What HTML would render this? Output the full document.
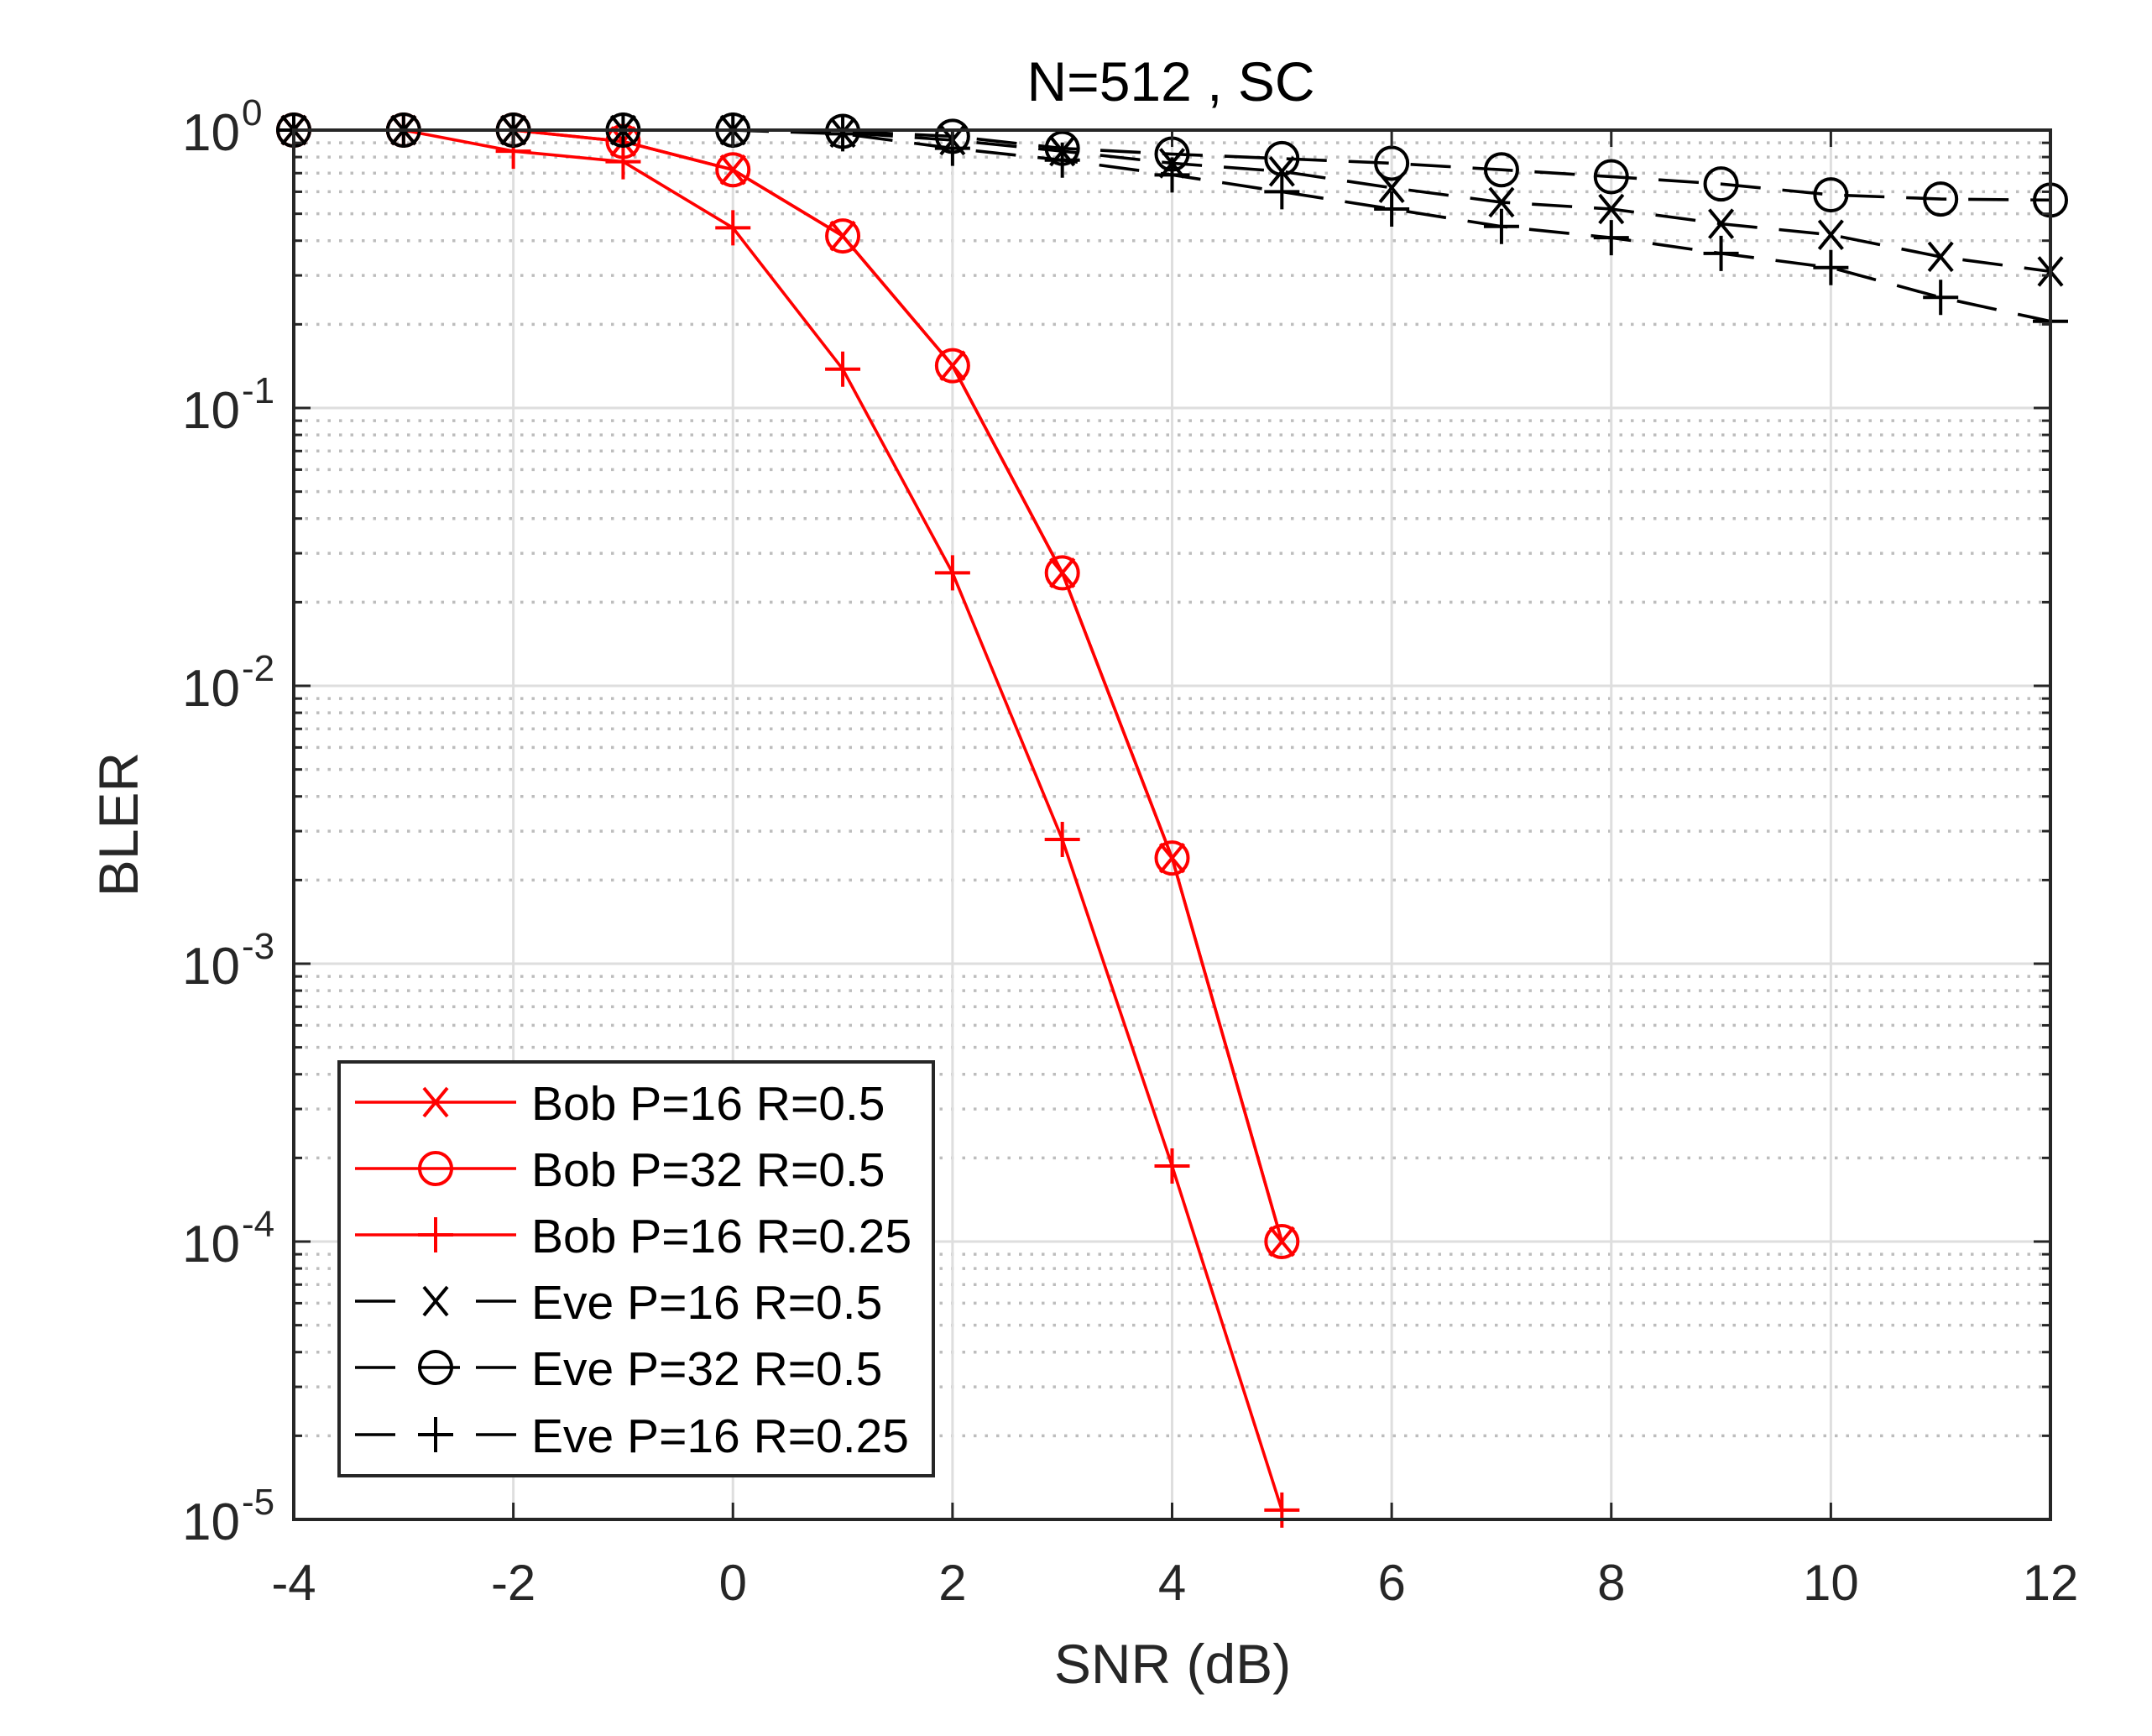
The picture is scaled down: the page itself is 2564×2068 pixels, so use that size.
<!DOCTYPE html>
<html><head><meta charset="utf-8"><style>
html,body{margin:0;padding:0;background:#fff;}
svg{display:block;font-family:"Liberation Sans",sans-serif;}
</style></head><body>
<svg id="chart" width="2564" height="2068" viewBox="0 0 2564 2068" xmlns="http://www.w3.org/2000/svg">
<rect x="0" y="0" width="2564" height="2068" fill="#fff"/>
<g id="grid"></g>
<g id="series"></g>
<g id="axes"></g>
<text x="1395" y="120" font-size="66" text-anchor="middle" fill="#000">N=512 , SC</text>
<text x="1397" y="2005" font-size="66" text-anchor="middle" fill="#262626">SNR (dB)</text>
<text x="0" y="0" font-size="66" text-anchor="middle" fill="#262626" transform="translate(164,982) rotate(-90)">BLER</text>
<g id="legend"></g>
</svg>
<script>
const snr = [-4,-3,-2,-1,0,1,2,3,4,5,6,7,8,9,10,11,12];
const bobP16R05 = [1,1,1,0.91,0.72,0.416,0.142,0.0255,0.0024,0.0001];
const bobP32R05 = [1,1,1,0.91,0.72,0.416,0.142,0.0255,0.0024,0.0001];
const bobP16R025 = [1,1,0.84,0.77,0.445,0.138,0.0255,0.0028,0.000187,0.0000108];
const eveP16R05 = [1,1,1,1,1,0.98,0.92,0.84,0.76,0.71,0.62,0.55,0.52,0.46,0.42,0.35,0.31];
const eveP32R05 = [1,1,1,1,1,0.99,0.95,0.86,0.82,0.79,0.76,0.72,0.68,0.64,0.585,0.565,0.56];
const eveP16R025 = [1,1,1,1,1,0.97,0.86,0.78,0.69,0.60,0.52,0.45,0.41,0.36,0.32,0.25,0.205];
const xTicks = [-4,-2,0,2,4,6,8,10,12];
const yExps = [0,-1,-2,-3,-4,-5];

const X0=350,X1=2443,Y0=155,Y1=1810;
const xs = v => X0 + (v+4)/16*(X1-X0);
const ys = v => Y0 + (-Math.log10(v))/5*(Y1-Y0);
const NS="http://www.w3.org/2000/svg";
function mk(tag, attrs, parent){const e=document.createElementNS(NS,tag);for(const k in attrs)e.setAttribute(k,attrs[k]);parent.appendChild(e);return e;}
const grid=document.getElementById('grid'), axes=document.getElementById('axes'), ser=document.getElementById('series'), leg=document.getElementById('legend');

for(let d=0; d<5; d++){
  for(let m=2;m<=9;m++){
    const y=ys(m*Math.pow(10,-(d+1)));
    const l=mk('line',{x1:X0,x2:X1,y1:y,y2:y,stroke:'#bdbdbd','stroke-width':3.5,'stroke-dasharray':'3.5,10'},grid);
    
    
    const t1=mk('line',{x1:X0,x2:X0+10,y1:y,y2:y,stroke:'#262626','stroke-width':3},axes);
    
    
    const t2=mk('line',{x1:X1-10,x2:X1,y1:y,y2:y,stroke:'#262626','stroke-width':3},axes);
    
    
  }
}
xTicks.forEach(v=>{
  const x=xs(v);
  const g=mk('line',{x1:x,x2:x,y1:Y0,y2:Y1,stroke:'#dedede','stroke-width':3},grid);
  
  
  const t=mk('line',{x1:x,x2:x,y1:Y1,y2:Y1-20,stroke:'#262626','stroke-width':3},axes);
  
  
  const t2=mk('line',{x1:x,x2:x,y1:Y0,y2:Y0+20,stroke:'#262626','stroke-width':3},axes);
  
  
  const lb=mk('text',{x:x,y:1906,'font-size':60,'text-anchor':'middle',fill:'#262626'},axes);
  lb.textContent=String(v);
  
  
});
yExps.forEach(e=>{
  const y=ys(Math.pow(10,e));
  const g=mk('line',{x1:X0,x2:X1,y1:y,y2:y,stroke:'#dedede','stroke-width':3},grid);
  
  
  const t=mk('line',{x1:X0,x2:X0+20,y1:y,y2:y,stroke:'#262626','stroke-width':3},axes);
  
  
  const t2=mk('line',{x1:X1-20,x2:X1,y1:y,y2:y,stroke:'#262626','stroke-width':3},axes);
  
  
  const lb=mk('text',{x:286,y:y+24,'font-size':62,'text-anchor':'end',fill:'#262626'},axes);
  lb.textContent='10';
  
  
  const sp=mk('text',{x:288,y:y-6,'font-size':44,'text-anchor':'start',fill:'#262626'},axes);
  sp.textContent=String(e);
  
  
});
const box=mk('rect',{x:X0,y:Y0,width:X1-X0,height:Y1-Y0,fill:'none',stroke:'#262626','stroke-width':4},axes);



function marker(type,x,y,color,parent){
  const r=19, sw=4;
  if(type==='x'){
    mk('path',{d:`M${x-14},${y-17}L${x+14},${y+17}M${x-14},${y+17}L${x+14},${y-17}`,stroke:color,'stroke-width':sw,fill:'none'},parent);
  } else if(type==='o'){
    mk('circle',{cx:x,cy:y,r:r,stroke:color,'stroke-width':sw,fill:'none'},parent);
  } else {
    mk('path',{d:`M${x-r-2},${y}L${x+r+2},${y}M${x},${y-r-2}L${x},${y+r+2}`,stroke:color,'stroke-width':sw,fill:'none'},parent);
  }
}
const seriesDefs=[
  {name:'bob-p16-r05',vals:bobP16R05,color:'#ff0000',dash:null,m:'x',label:'Bob P=16 R=0.5'},
  {name:'bob-p32-r05',vals:bobP32R05,color:'#ff0000',dash:null,m:'o',label:'Bob P=32 R=0.5'},
  {name:'bob-p16-r025',vals:bobP16R025,color:'#ff0000',dash:null,m:'+',label:'Bob P=16 R=0.25'},
  {name:'eve-p16-r05',vals:eveP16R05,color:'#000000',dash:'48,26',m:'x',label:'Eve P=16 R=0.5'},
  {name:'eve-p32-r05',vals:eveP32R05,color:'#000000',dash:'48,26',m:'o',label:'Eve P=32 R=0.5'},
  {name:'eve-p16-r025',vals:eveP16R025,color:'#000000',dash:'48,26',m:'+',label:'Eve P=16 R=0.25'}
];
seriesDefs.forEach(s=>{
  const g=mk('g',{},ser);
  
  
  const pts=s.vals.map((v,i)=>xs(snr[i])+','+ys(v)).join(' ');
  const pl=mk('polyline',{points:pts,fill:'none',stroke:s.color,'stroke-width':3.6},g);
  if(s.dash) pl.setAttribute('stroke-dasharray',s.dash);
  
  
  s.vals.forEach((v,i)=>marker(s.m,xs(snr[i]),ys(v),s.color,g));
});
const lb=mk('rect',{x:404,y:1265,width:708,height:493,fill:'#fff',stroke:'#262626','stroke-width':4},leg);


const legY=[1313,1392,1471,1550,1629,1709];
seriesDefs.forEach((s,i)=>{
  const y=legY[i];
  const g=mk('g',{},leg);
  
  
  if(s.dash){
    mk('line',{x1:423,x2:471,y1:y,y2:y,stroke:s.color,'stroke-width':3.6},g);
    mk('line',{x1:567,x2:615,y1:y,y2:y,stroke:s.color,'stroke-width':3.6},g);
    if(s.m==='o') mk('line',{x1:500,x2:548,y1:y,y2:y,stroke:s.color,'stroke-width':3.6},g);
  } else {
    mk('line',{x1:423,x2:615,y1:y,y2:y,stroke:s.color,'stroke-width':3.6},g);
  }
  marker(s.m,519,y,s.color,g);
  const t=mk('text',{x:633,y:y+21,'font-size':57,fill:'#000'},g);
  t.textContent=s.label;
});
</script>
</body></html>
